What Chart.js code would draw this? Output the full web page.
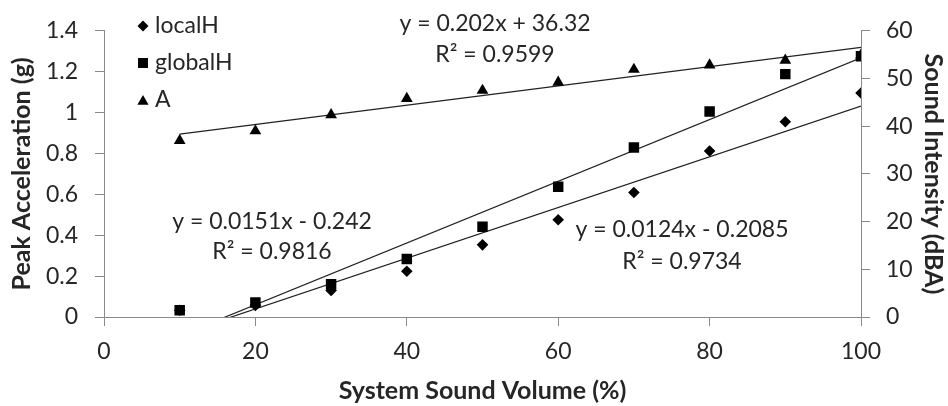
<!DOCTYPE html>
<html><head><meta charset="utf-8">
<script src="https://cdn.jsdelivr.net/npm/chart.js@4"></script>
<style>html,body{margin:0;padding:0;background:#fff}#wrap{width:948px;height:406px}</style>
</head><body><div id="wrap"><canvas id="c" width="948" height="406"></canvas></div>
<script>
// ---- data ----
const volume  = [10, 20, 30, 40, 50, 60, 70, 80, 90, 100];
const localH  = [0.033, 0.057, 0.13, 0.224, 0.353, 0.476, 0.609, 0.812, 0.955, 1.096];
const globalH = [0.033, 0.071, 0.16, 0.284, 0.441, 0.637, 0.829, 1.005, 1.188, 1.275];
const soundA  = [37.0, 39.0, 42.4, 45.8, 47.5, 49.2, 51.9, 52.8, 53.8, 54.9];
const seriesNames = ['localH', 'globalH', 'A'];
// linear trend lines shown in the reference (slope, intercept, R²)
const trendSlope     = [0.0124, 0.0151, 0.202];
const trendIntercept = [-0.2085, -0.242, 36.32];
const trendR2        = ['0.9734', '0.9816', '0.9599'];
const xTicks      = [0, 20, 40, 60, 80, 100];
const yLeftTicks  = [0, 0.2, 0.4, 0.6, 0.8, 1, 1.2, 1.4];
const yRightTicks = [0, 10, 20, 30, 40, 50, 60];
const xTitle = 'System Sound Volume (%)';
const yLeftTitle = 'Peak Acceleration (g)';
const yRightTitle = 'Sound Intensity (dBA)';

const FONT = 'Lato, "Open Sans", sans-serif';
const TXT = '#262626';
const AX = '#8a8a8a';
const FS = 23;
const TFS = 25;

function toXY(xs, ys) { return xs.map((x, i) => ({x: x, y: ys[i]})); }
function trendPts(k) {
  const x0 = volume[0], x1 = volume[volume.length - 1];
  return [{x: x0, y: trendSlope[k] * x0 + trendIntercept[k]}, {x: x1, y: trendSlope[k] * x1 + trendIntercept[k]}];
}
function eqText(k) {
  const b = trendIntercept[k];
  return 'y = ' + trendSlope[k] + 'x ' + (b < 0 ? '- ' : '+ ') + Math.abs(b);
}
const markerStyles = ['rectRot', 'rect', 'triangle'];
const markerRadius = [5.8, 7.4, 6.8];

const trendStyle = {type: 'line', showLine: true, pointRadius: 0, borderColor: '#222', borderWidth: 1.2, fill: false, tension: 0};
const datasets = [
  {type: 'scatter', label: seriesNames[0], data: toXY(volume, localH), yAxisID: 'y', pointStyle: markerStyles[0], pointRadius: markerRadius[0], backgroundColor: '#000', borderColor: '#000', borderWidth: 0},
  {type: 'scatter', label: seriesNames[1], data: toXY(volume, globalH), yAxisID: 'y', pointStyle: markerStyles[1], pointRadius: markerRadius[1], backgroundColor: '#000', borderColor: '#000', borderWidth: 0},
  {type: 'scatter', label: seriesNames[2], data: toXY(volume, soundA), yAxisID: 'y1', pointStyle: markerStyles[2], pointRadius: markerRadius[2], backgroundColor: '#000', borderColor: '#000', borderWidth: 0},
  Object.assign({label: 'trend localH', data: trendPts(0), yAxisID: 'y'}, trendStyle),
  Object.assign({label: 'trend globalH', data: trendPts(1), yAxisID: 'y'}, trendStyle),
  Object.assign({label: 'trend A', data: trendPts(2), yAxisID: 'y1'}, trendStyle)
];

function drawMarker(ctx, style, x, y, r) {
  ctx.beginPath();
  if (style === 'rectRot') {
    ctx.moveTo(x - r, y); ctx.lineTo(x, y - r); ctx.lineTo(x + r, y); ctx.lineTo(x, y + r);
  } else if (style === 'rect') {
    const s = r * Math.SQRT1_2; ctx.rect(x - s, y - s, 2 * s, 2 * s);
  } else {
    ctx.moveTo(x, y - r); ctx.lineTo(x + 0.866 * r, y + 0.5 * r); ctx.lineTo(x - 0.866 * r, y + 0.5 * r);
  }
  ctx.closePath(); ctx.fillStyle = '#000'; ctx.fill();
}

const annotations = {
  id: 'annotations',
  afterDraw(chart) {
    const ctx = chart.ctx;
    const ca = chart.chartArea;
    ctx.save();
    ctx.font = FS + 'px ' + FONT;
    ctx.fillStyle = TXT;
    ctx.textBaseline = 'middle';
    // legend (inside plot area, top-left)
    const legY = [26, 63, 100];
    for (let i = 0; i < 3; i++) {
      drawMarker(ctx, markerStyles[i], ca.left + 39, legY[i] + (i === 2 ? 1.5 : 0), markerRadius[i] * 0.95);
      ctx.fillStyle = TXT; ctx.textAlign = 'left';
      ctx.fillText(seriesNames[i], ca.left + 51, legY[i]);
    }
    // trend equations
    ctx.textAlign = 'center';
    const eqPos = [[682, 230, 262], [272, 222, 252], [495, 24, 55]];
    for (let k = 0; k < 3; k++) {
      ctx.fillText(eqText(k), eqPos[k][0], eqPos[k][1]);
      ctx.fillText('R\u00B2 = ' + trendR2[k], eqPos[k][0], eqPos[k][2]);
    }
    ctx.restore();
  }
};

const tickFont = {family: FONT, size: FS};
const titleFont = {family: FONT, size: TFS, weight: 'bold'};
const gridCfg = {drawOnChartArea: false, drawTicks: true, tickLength: 9, color: AX, lineWidth: 1};

new Chart(document.getElementById('c'), {
  data: {datasets: datasets},
  plugins: [annotations],
  options: {
    responsive: false, animation: false, devicePixelRatio: 1,
    layout: {autoPadding: false, padding: {top: 22, left: 0, right: 0, bottom: 0}},
    plugins: {legend: {display: false}, tooltip: {enabled: false}},
    scales: {
      x: {
        type: 'linear', position: 'bottom', min: 0, max: 100,
        afterBuildTicks: s => { s.ticks = xTicks.map(v => ({value: v})); },
        ticks: {font: tickFont, color: TXT, padding: 12, maxRotation: 0, autoSkip: false},
        grid: gridCfg, border: {color: AX, width: 1},
        title: {display: true, text: xTitle, font: titleFont, color: TXT, padding: {top: 0, bottom: 0}},
        afterFit: s => { s.height = 89; }
      },
      y: {
        type: 'linear', position: 'left', min: 0, max: 1.4,
        afterBuildTicks: s => { s.ticks = yLeftTicks.map(v => ({value: v})); },
        ticks: {font: tickFont, color: TXT, padding: 17, callback: v => String(v)},
        grid: gridCfg, border: {color: AX, width: 1},
        title: {display: true, text: yLeftTitle, font: titleFont, color: TXT, padding: {top: 7, bottom: 0}},
        afterFit: s => { s.width = 104; }
      },
      y1: {
        type: 'linear', position: 'right', min: 0, max: 60,
        afterBuildTicks: s => { s.ticks = yRightTicks.map(v => ({value: v})); },
        ticks: {font: tickFont, color: TXT, padding: 16, callback: v => String(v)},
        grid: gridCfg, border: {color: AX, width: 1},
        title: {display: true, text: yRightTitle, font: titleFont, color: TXT, padding: {top: 0, bottom: 0}},
        afterFit: s => { s.width = 87; }
      }
    }
  }
});
</script>
</body></html>
